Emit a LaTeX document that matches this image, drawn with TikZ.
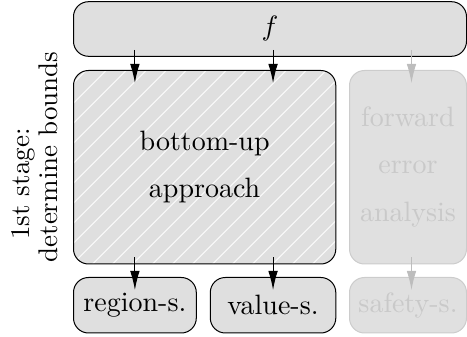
\documentclass[tikz,border=0pt]{standalone}
\usetikzlibrary{arrows.meta}

% text is set at 10pt and enlarged, so it keeps the 10pt design
\newcommand{\bigtext}[2][2.8]{\scalebox{#1}{#2}}

\definecolor{boxfill}{gray}{0.875}
\definecolor{fadefill}{gray}{0.88}
\definecolor{fadeline}{gray}{0.80}
\definecolor{fadetext}{gray}{0.79}
\definecolor{fadearrow}{gray}{0.74}

\tikzset{
  box/.style={draw=black, fill=boxfill, line width=1pt, rounded corners=15pt,
    inner sep=0pt, text=black},
  fadebox/.style={draw=fadeline, fill=fadefill, line width=1pt, rounded corners=15pt,
    inner sep=0pt, text=fadetext},
  hatch/.style={draw=white, line width=1.1pt, opacity=0.85},
  hatched/.style={path picture={
    \foreach \k in {0,...,24}
      \draw[hatch] ([xshift={12.7pt+20pt*\k}]path picture bounding box.north west)
        -- ([xshift={12.7pt+20pt*\k-300pt}, yshift=-300pt]path picture bounding box.north west);
  }},
  arr/.style={-{Latex[length=19pt,width=9.5pt]}, line width=1pt, draw=black,
    shorten <=-7pt, shorten >=-13pt},
  fadearr/.style={arr, draw=fadearrow},
  side/.style={rotate=90, inner sep=0pt, text=black},
}

\begin{document}
\begin{tikzpicture}[x=1pt, y=-1pt]
\useasboundingbox (0,0) rectangle (467,337);

% input
\node[box, minimum width=393pt, minimum height=54.6pt] (f) at (270,29) {\bigtext{$f$}};

% first stage: the two approaches
\node[box, hatched, minimum width=262.3pt, minimum height=193.5pt] (bu) at (204.65,167.25)
  {\bigtext{\begin{tabular}{@{}c@{}}bottom-up\\[4.8pt]approach\end{tabular}}};
\node[fadebox, minimum width=117pt, minimum height=193.5pt] (fea) at (408,167.25)
  {\bigtext{\begin{tabular}{@{}c@{}}forward\\[4.8pt]error\\[4.8pt]analysis\end{tabular}}};

% results
\node[box, minimum width=122.8pt, minimum height=55.5pt] (rs) at (134.9,305.25) {\bigtext{region-s.}};
\node[box, minimum width=125.5pt, minimum height=55.5pt] (vs) at (273.05,305.25) {\bigtext{value-s.}};
\node[fadebox, minimum width=117pt, minimum height=55.5pt] (ss) at (408,305.25) {\bigtext{safety-s.}};

% stage label
\node[side] (s1) at (23.3,184) {\bigtext[2.7]{1st stage:}};
\node[side] (s2) at (48.4,157) {\bigtext[2.7]{determine bounds}};

% connectors
\coordinate (gx) at (411.5,0);
\draw[arr] (f.south -| rs.center) -- (bu.north -| rs.center);
\draw[arr] (f.south -| vs.center) -- (bu.north -| vs.center);
\draw[fadearr] (f.south -| gx) -- (fea.north -| gx);
\draw[arr] (bu.south -| rs.center) -- (rs.north);
\draw[arr] (bu.south -| vs.center) -- (vs.north);
\draw[fadearr] (fea.south -| gx) -- (ss.north -| gx);
\end{tikzpicture}
\end{document}
